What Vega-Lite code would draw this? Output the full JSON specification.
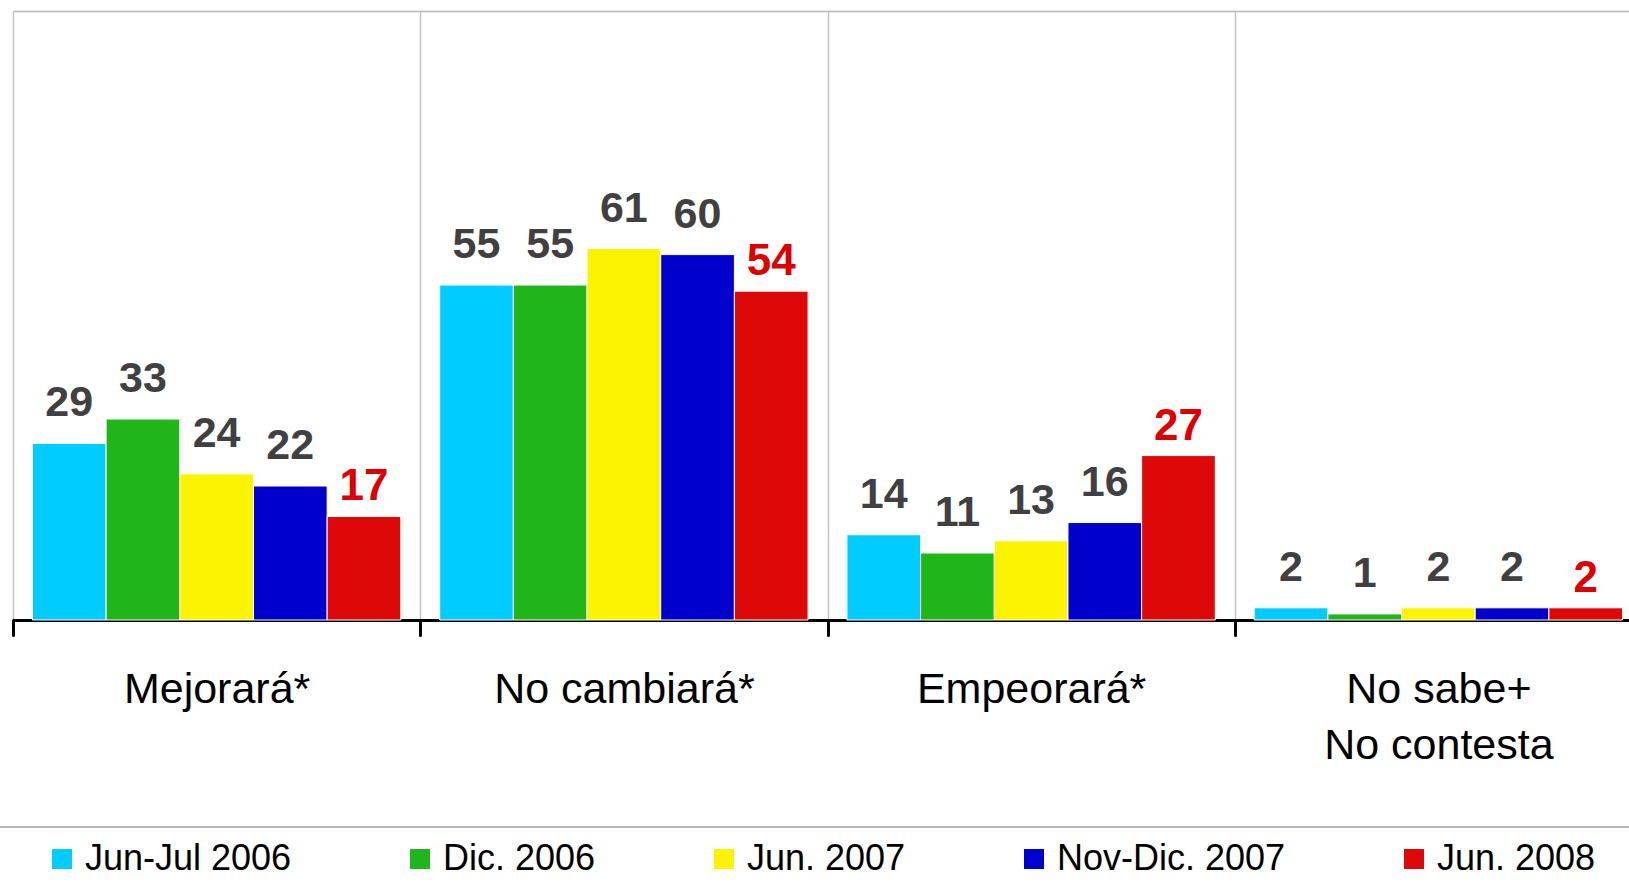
{
  "$schema": "https://vega.github.io/schema/vega-lite/v6.json",
  "width": 1629,
  "height": 609,
  "autosize": {"type": "none"},
  "padding": {"left": 0, "top": 11, "right": 0, "bottom": 267},
  "background": "white",
  "config": {"view": {"stroke": null}, "font": "Liberation Sans"},
  "data": {
    "values": [
      {"category": "Mejorará*", "series": "Jun-Jul 2006", "value": 29},
      {"category": "Mejorará*", "series": "Dic. 2006", "value": 33},
      {"category": "Mejorará*", "series": "Jun. 2007", "value": 24},
      {"category": "Mejorará*", "series": "Nov-Dic. 2007", "value": 22},
      {"category": "Mejorará*", "series": "Jun. 2008", "value": 17},
      {"category": "No cambiará*", "series": "Jun-Jul 2006", "value": 55},
      {"category": "No cambiará*", "series": "Dic. 2006", "value": 55},
      {"category": "No cambiará*", "series": "Jun. 2007", "value": 61},
      {"category": "No cambiará*", "series": "Nov-Dic. 2007", "value": 60},
      {"category": "No cambiará*", "series": "Jun. 2008", "value": 54},
      {"category": "Empeorará*", "series": "Jun-Jul 2006", "value": 14},
      {"category": "Empeorará*", "series": "Dic. 2006", "value": 11},
      {"category": "Empeorará*", "series": "Jun. 2007", "value": 13},
      {"category": "Empeorará*", "series": "Nov-Dic. 2007", "value": 16},
      {"category": "Empeorará*", "series": "Jun. 2008", "value": 27},
      {"category": "No sabe+\nNo contesta", "series": "Jun-Jul 2006", "value": 2},
      {"category": "No sabe+\nNo contesta", "series": "Dic. 2006", "value": 1},
      {"category": "No sabe+\nNo contesta", "series": "Jun. 2007", "value": 2},
      {"category": "No sabe+\nNo contesta", "series": "Nov-Dic. 2007", "value": 2},
      {"category": "No sabe+\nNo contesta", "series": "Jun. 2008", "value": 2}
    ]
  },
  "layer": [
    {
      "mark": {"type": "bar", "stroke": "white", "strokeWidth": 1},
      "encoding": {
        "x": {
          "field": "category", "type": "nominal", "sort": null, "title": null,
          "scale": {"range": [13, 1642], "paddingInner": 0, "paddingOuter": 0},
          "axis": {
            "orient": "bottom",
            "domain": true, "domainColor": "black", "domainWidth": 3,
            "ticks": true, "tickBand": "extent", "tickColor": "black", "tickWidth": 3, "tickSize": 15, "tickCap": "round",
            "grid": true, "gridColor": "#c4c4c4", "gridWidth": 1.5,
            "labelFontSize": 43, "labelFont": "Liberation Sans", "labelColor": "black",
            "labelAngle": 0, "labelBaseline": "top", "labelPadding": 33, "labelLineHeight": 56,
            "labelLimit": 0, "labelExpr": "split(datum.label, '\\n')"
          }
        },
        "xOffset": {"field": "series", "type": "nominal", "sort": null, "scale": {"paddingInner": 0, "paddingOuter": 0.264}},
        "y": {"field": "value", "type": "quantitative", "scale": {"domain": [0, 100]}, "axis": null},
        "color": {
          "field": "series", "type": "nominal", "sort": null,
          "scale": {
            "domain": ["Jun-Jul 2006", "Dic. 2006", "Jun. 2007", "Nov-Dic. 2007", "Jun. 2008"],
            "range": ["#00ccff", "#20b518", "#fcf300", "#0000cc", "#dd0808"]
          },
          "legend": {
            "orient": "none", "legendX": 44, "legendY": 830, "direction": "horizontal",
            "title": null, "symbolType": "square", "symbolSize": 400, "symbolStrokeWidth": 0,
            "labelFontSize": 36, "labelFont": "Liberation Sans", "labelColor": "black",
            "labelOffset": 5, "columnPadding": 110, "labelLimit": 0, "padding": 0
          }
        }
      }
    },
    {
      "transform": [{"filter": "datum.series != 'Jun. 2008'"}],
      "mark": {"type": "text", "baseline": "alphabetic", "align": "center", "dy": -27, "fontSize": 43, "fontWeight": "bold", "font": "Liberation Sans", "color": "#404040"},
      "encoding": {
        "x": {
          "field": "category", "type": "nominal", "sort": null,
          "axis": {"orient": "top", "title": null, "domain": true, "domainColor": "#b8b8b8", "domainWidth": 1.5, "ticks": false, "labels": false, "grid": false}
        },
        "xOffset": {"field": "series", "type": "nominal", "sort": null},
        "y": {"field": "value", "type": "quantitative"},
        "text": {"field": "value", "type": "quantitative"}
      }
    },
    {
      "transform": [{"filter": "datum.series == 'Jun. 2008'"}],
      "mark": {"type": "text", "baseline": "alphabetic", "align": "center", "dy": -16, "fontSize": 44, "fontWeight": "bold", "font": "Liberation Sans", "color": "#dd0000"},
      "encoding": {
        "x": {"field": "category", "type": "nominal", "sort": null, "axis": null},
        "xOffset": {"field": "series", "type": "nominal", "sort": null},
        "y": {"field": "value", "type": "quantitative"},
        "text": {"field": "value", "type": "quantitative"}
      }
    },
    {
      "mark": {"type": "rule", "color": "#b8b8b8", "strokeWidth": 1.5},
      "encoding": {"y": {"datum": -34}}
    }
  ],
  "resolve": {"axis": {"x": "independent"}}
}
